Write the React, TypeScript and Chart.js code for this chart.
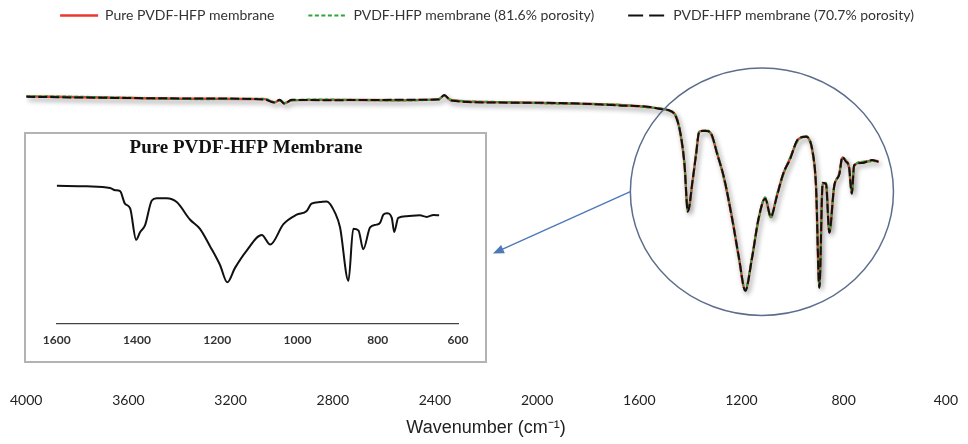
import React, { useEffect, useRef } from 'react';
import { Chart, registerables } from 'chart.js';

Chart.register(...registerables);

// ---------- data ----------
const legendLabels = [
  'Pure PVDF-HFP membrane',
  'PVDF-HFP membrane (81.6% porosity)',
  'PVDF-HFP membrane (70.7% porosity)',
];
const axisTitle = 'Wavenumber (cm⁻¹)';
const mainTicks = [4000, 3600, 3200, 2800, 2400, 2000, 1600, 1200, 800, 400];

const mainWavenumbers = [
  4000, 3711, 3321, 3067, 3028, 3008, 2989, 2961, 2852, 2540,
  2384, 2364, 2337, 2149, 1915, 1681, 1564, 1505, 1487, 1455,
  1436, 1423, 1410, 1391, 1378, 1365, 1339, 1320, 1294, 1268,
  1236, 1210, 1185, 1159, 1133, 1107, 1085, 1062, 1036, 1011,
  978, 947, 920, 908, 895, 882, 869, 856, 837, 817,
  805, 792, 779, 768, 759, 727, 689, 663,
];
const pureValues = [
  83.8, 83.5, 83.1, 83.0, 82.1, 82.7, 81.8, 82.7, 82.8, 82.7,
  83.0, 84.1, 82.7, 82.1, 81.8, 81.3, 80.7, 80.1, 79.8, 77.8,
  71.7, 64.2, 50.6, 59.5, 67.0, 73.6, 73.9, 73.1, 67.0, 60.0,
  48.3, 37.0, 27.7, 37.0, 48.3, 54.4, 48.8, 54.9, 61.4, 65.6,
  71.3, 72.2, 67.0, 57.7, 28.6, 58.6, 58.6, 44.5, 57.7, 61.4,
  66.1, 65.2, 63.3, 55.8, 63.7, 64.7, 65.2, 65.0,
];
const porous816Values = [
  83.9, 83.6, 83.0, 83.1, 82.2, 82.6, 81.9, 82.6, 82.9, 82.6,
  83.1, 84.0, 82.8, 82.2, 81.7, 81.4, 80.6, 80.2, 79.7, 77.9,
  71.5, 64.4, 50.8, 59.3, 67.2, 73.5, 74.0, 73.0, 67.2, 59.8,
  48.5, 36.8, 27.9, 37.2, 48.1, 54.6, 48.6, 55.1, 61.2, 65.8,
  71.1, 72.3, 66.8, 57.9, 28.8, 58.4, 58.8, 44.7, 57.5, 61.6,
  65.9, 65.4, 63.1, 56.0, 63.5, 64.9, 65.0, 65.2,
];
const porous707Values = [
  83.7, 83.4, 83.2, 82.9, 82.0, 82.8, 81.7, 82.8, 82.7, 82.8,
  82.9, 84.2, 82.6, 82.0, 81.9, 81.2, 80.8, 80.0, 79.9, 77.6,
  71.9, 64.0, 50.4, 59.7, 66.8, 73.7, 73.8, 73.2, 66.8, 60.2,
  48.1, 37.2, 27.5, 36.8, 48.5, 54.2, 49.0, 54.7, 61.6, 65.4,
  71.5, 72.1, 67.2, 57.5, 28.4, 58.8, 58.4, 44.3, 57.9, 61.2,
  66.3, 65.0, 63.5, 55.6, 63.9, 64.5, 65.4, 64.8,
];

const insetTitle = 'Pure PVDF-HFP Membrane';
const insetTicks = [1600, 1400, 1200, 1000, 800, 600];
const insetWavenumbers = [
  1600, 1525, 1467, 1454, 1442, 1430, 1417, 1402, 1392, 1380,
  1363, 1351, 1326, 1301, 1268, 1243, 1218, 1193, 1175, 1156,
  1127, 1089, 1068, 1035, 1002, 977, 965, 944, 927, 906,
  894, 873, 861, 848, 836, 819, 803, 794, 786, 777,
  765, 759, 749, 728, 695, 678, 661, 647,
];
const insetValues = [
  88.5, 88.1, 87.1, 85.6, 85.0, 77.0, 73.9, 53.8, 58.8, 63.0,
  79.0, 80.4, 80.4, 78.0, 66.8, 60.8, 49.7, 37.6, 26.5, 35.6,
  46.7, 56.8, 50.7, 63.8, 69.9, 72.3, 77.0, 78.0, 78.4, 70.9,
  61.8, 27.5, 60.8, 59.8, 47.7, 61.8, 63.5, 64.8, 69.9, 70.9,
  67.9, 58.8, 67.9, 68.9, 69.5, 68.5, 69.7, 69.5,
];

// magnifier annotation, in data units of the main chart
const zoomCenter = { wn: 1120, t: 56.2 };
const zoomHalf = { wn: 515, t: 35.8 };
const arrowTarget = { wn: 2173, t: 38.3 };

const toPoints = (xs: number[], ys: number[]) => xs.map((x, i) => ({ x, y: ys[i] }));

// ---------- plugins ----------
const shadowPlugin = {
  id: 'lineShadow',
  beforeDatasetDraw(chart: any, args: any) {
    if (args.index === 0) {
      const c = chart.ctx;
      c.save();
      c.shadowColor = 'rgba(0,0,0,0.45)';
      c.shadowBlur = 5;
      c.shadowOffsetX = 2;
      c.shadowOffsetY = 3;
    }
  },
  afterDatasetDraw(chart: any, args: any) {
    if (args.index === 0) chart.ctx.restore();
  },
};

const zoomPlugin = {
  id: 'zoomMark',
  afterDatasetsDraw(chart: any) {
    const { ctx } = chart;
    const x = chart.scales.x;
    const y = chart.scales.y;
    const cx = x.getPixelForValue(zoomCenter.wn);
    const cy = y.getPixelForValue(zoomCenter.t);
    const rx = Math.abs(x.getPixelForValue(zoomCenter.wn + zoomHalf.wn) - cx);
    const ry = Math.abs(y.getPixelForValue(zoomCenter.t + zoomHalf.t) - cy);
    ctx.save();
    ctx.strokeStyle = '#5d6d8c';
    ctx.lineWidth = 1.5;
    ctx.beginPath();
    ctx.ellipse(cx, cy, rx, ry, 0, 0, Math.PI * 2);
    ctx.stroke();

    const sx = cx - rx;
    const sy = cy;
    const tx = x.getPixelForValue(arrowTarget.wn);
    const ty = y.getPixelForValue(arrowTarget.t);
    const ang = Math.atan2(ty - sy, tx - sx);
    const head = 11;
    const hw = 4.5;
    const cos = Math.cos(ang);
    const sin = Math.sin(ang);
    ctx.strokeStyle = '#4f78b8';
    ctx.fillStyle = '#4f78b8';
    ctx.lineWidth = 1.4;
    ctx.beginPath();
    ctx.moveTo(sx, sy);
    ctx.lineTo(tx - cos * head * 0.8, ty - sin * head * 0.8);
    ctx.stroke();
    ctx.beginPath();
    ctx.moveTo(tx, ty);
    ctx.lineTo(tx - cos * head + sin * hw, ty - sin * head - cos * hw);
    ctx.lineTo(tx - cos * head - sin * hw, ty - sin * head + cos * hw);
    ctx.closePath();
    ctx.fill();
    ctx.restore();
  },
};

function mainConfig(): any {
  return {
    type: 'line',
    data: {
      datasets: [
        {
          label: legendLabels[0],
          data: toPoints(mainWavenumbers, pureValues),
          borderColor: '#e8392f',
          backgroundColor: '#e8392f',
          borderWidth: 2.4,
          pointRadius: 0,
          order: 3,
          cubicInterpolationMode: 'monotone',
        },
        {
          label: legendLabels[1],
          data: toPoints(mainWavenumbers, porous816Values),
          borderColor: '#2ea43a',
          backgroundColor: '#2ea43a',
          borderWidth: 2,
          borderDash: [4, 2],
          pointRadius: 0,
          order: 2,
          cubicInterpolationMode: 'monotone',
        },
        {
          label: legendLabels[2],
          data: toPoints(mainWavenumbers, porous707Values),
          borderColor: '#111111',
          backgroundColor: '#111111',
          borderWidth: 2,
          borderDash: [9, 3],
          pointRadius: 0,
          order: 1,
          cubicInterpolationMode: 'monotone',
        },
      ],
    },
    options: {
      responsive: false,
      animation: false,
      devicePixelRatio: 1,
      layout: { padding: { left: 26, right: 20, top: -25.5, bottom: 0 } },
      plugins: {
        tooltip: { enabled: false },
        legend: {
          display: true,
          position: 'top',
          labels: {
            usePointStyle: true,
            pointStyle: 'line',
            pointStyleWidth: 38,
            boxHeight: 14,
            padding: 34,
            color: '#333',
            font: { family: 'Lato, sans-serif', size: 14 },
            sort: (a: any, b: any) => a.datasetIndex - b.datasetIndex,
            generateLabels: (chart: any) => {
              const items = (Chart.defaults.plugins.legend.labels as any).generateLabels(chart);
              return items.map((it: any) => {
                if (it.datasetIndex === 2) return { ...it, lineDash: [15, 6] };
                if (it.datasetIndex === 1) return { ...it, lineDash: [4, 2.5] };
                return it;
              });
            },
          },
        },
      },
      scales: {
        x: {
          type: 'linear',
          reverse: true,
          min: 400,
          max: 4000,
          grid: { display: false, drawTicks: false },
          border: { display: false },
          afterBuildTicks: (s: any) => {
            s.ticks = mainTicks.map((v) => ({ value: v }));
          },
          ticks: {
            padding: 10,
            color: '#222',
            autoSkip: false,
            maxRotation: 0,
            font: { family: 'Lato, sans-serif', size: 14 },
            callback: (v: any) => String(v),
          },
          title: {
            display: true,
            text: axisTitle,
            color: '#222',
            font: { family: "'Liberation Sans', Arial, sans-serif", size: 18, lineHeight: 1.0 },
            padding: { top: 0, bottom: 6.8 },
          },
        },
        y: { display: false, min: 1.0, max: 102.3 },
      },
    },
    plugins: [shadowPlugin, zoomPlugin],
  };
}

function insetConfig(): any {
  return {
    type: 'line',
    data: {
      datasets: [
        {
          label: insetTitle,
          data: toPoints(insetWavenumbers, insetValues),
          borderColor: '#111111',
          borderWidth: 2,
          pointRadius: 0,
          cubicInterpolationMode: 'monotone',
        },
      ],
    },
    options: {
      responsive: false,
      animation: false,
      devicePixelRatio: 1,
      layout: { padding: { left: 8, right: 27, top: 0, bottom: 5 } },
      plugins: {
        legend: { display: false },
        tooltip: { enabled: false },
        title: {
          display: true,
          text: insetTitle,
          color: '#111',
          font: { family: "'Liberation Serif', serif", size: 19, weight: 'bold' },
          padding: { top: 3, bottom: 8 },
        },
      },
      scales: {
        x: {
          type: 'linear',
          reverse: true,
          min: 600,
          max: 1600,
          grid: { display: false, drawTicks: false },
          border: { display: true, color: '#444', width: 1.2 },
          afterBuildTicks: (s: any) => {
            s.ticks = insetTicks.map((v) => ({ value: v }));
          },
          ticks: {
            padding: 9,
            color: '#333',
            autoSkip: false,
            maxRotation: 0,
            font: { family: 'Lato, sans-serif', size: 12, weight: 'bold' },
            callback: (v: any) => String(v),
          },
        },
        y: {
          min: 0,
          max: 100,
          ticks: { display: false },
          grid: { display: false },
          border: { display: false },
          afterFit: (s: any) => {
            s.width = 22.7;
          },
        },
      },
    },
  };
}

export default function App() {
  const mainRef = useRef<HTMLCanvasElement>(null);
  const insetRef = useRef<HTMLCanvasElement>(null);

  useEffect(() => {
    const main = new Chart(mainRef.current as HTMLCanvasElement, mainConfig());
    const inset = new Chart(insetRef.current as HTMLCanvasElement, insetConfig());
    return () => {
      main.destroy();
      inset.destroy();
    };
  }, []);

  return (
    <div
      style={{
        position: 'fixed',
        left: 0,
        top: 0,
        width: 968,
        height: 444,
        background: '#fff',
        overflow: 'hidden',
      }}
    >
      <canvas ref={mainRef} width={968} height={444} style={{ position: 'absolute', left: 0, top: 0 }} />
      <div
        style={{
          position: 'absolute',
          left: 24,
          top: 132,
          width: 463,
          height: 231,
          border: '2px solid #b3b3b3',
          boxSizing: 'border-box',
          background: '#fff',
        }}
      >
        <canvas ref={insetRef} width={459} height={227} style={{ display: 'block' }} />
      </div>
    </div>
  );
}
